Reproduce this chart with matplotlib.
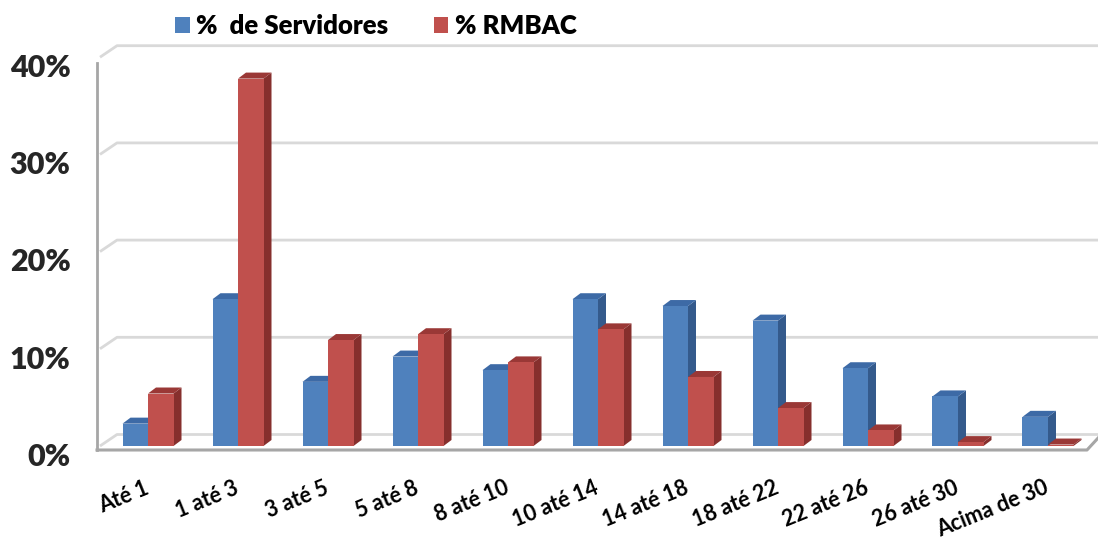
import matplotlib
matplotlib.use("Agg")
import matplotlib.pyplot as plt
from matplotlib.patches import Polygon, Patch
from matplotlib.transforms import ScaledTranslation
import numpy as np

categories = ["Até 1", "1 até 3", "3 até 5", "5 até 8", "8 até 10", "10 até 14",
              "14 até 18", "18 até 22", "22 até 26", "26 até 30", "Acima de 30"]
servidores = [2.3, 15.1, 6.6, 9.2, 7.8, 15.1, 14.4, 12.9, 8.0, 5.1, 3.0]
rmbac = [5.4, 37.8, 10.9, 11.5, 8.6, 12.0, 7.1, 3.9, 1.6, 0.4, 0.15]
yticks = [0, 10, 20, 30, 40]
ytick_labels = ["0%", "10%", "20%", "30%", "40%"]
series_names = ["%  de Servidores", "% RMBAC"]

FONT = ["Lato", "DejaVu Sans"]
plt.rcParams['font.family'] = FONT

W, H, DPI = 1098, 541, 100
fig = plt.figure(figsize=(W / DPI, H / DPI), dpi=DPI)

# pixel geometry of the plot
px_per_unit_x = 90.0     # one category
px_per_pct = 9.72        # one percent
x0_px, y0_px = 148.0, 446.0   # category 0 centre, value 0 (front plane)
ax_l, ax_r, ax_t, ax_b = 90, 1098, 40, 462
ax = fig.add_axes([ax_l / W, 1 - ax_b / H, (ax_r - ax_l) / W, (ax_b - ax_t) / H])
ax.set_xlim((ax_l - x0_px) / px_per_unit_x, (ax_r - x0_px) / px_per_unit_x)
ax.set_ylim((y0_px - ax_b) / px_per_pct, (y0_px - ax_t) / px_per_pct)

def dxu(px):
    return px / px_per_unit_x

def dyu(px):
    return px / px_per_pct

# wall / floor geometry (depth offsets)
wall_dx, wall_dy = dxu(17), dyu(11.5)
wall_front_x = dxu(100 - x0_px)
x_right = ax.get_xlim()[1]
grid_c = "#D9D9D9"
for v in yticks:
    ax.plot([wall_front_x, wall_front_x + wall_dx, x_right],
            [v, v + wall_dy, v + wall_dy], color=grid_c, lw=2, zorder=1,
            solid_capstyle="butt")

# front edge of the floor and left axis line
axis_c = "#A6A6A6"
floor_y = dyu(y0_px - 450)
left_x = dxu(97 - x0_px)
ax.plot([left_x, left_x], [floor_y, dyu(y0_px - 63)], color=axis_c, lw=2, zorder=1)
floor_end_x = dxu(1087 - x0_px)
ax.plot([left_x, floor_end_x, floor_end_x + dxu(12)],
        [floor_y, floor_y, floor_y + dyu(13)], color=axis_c, lw=2.2, zorder=1)

# bars
bw = dxu(25.5)
bdx, bdy = dxu(8), dyu(6)
x = np.arange(len(categories))
styles = [
    dict(front="#4F81BD", side="#345A8C", top="#3D6AA6"),
    dict(front="#C0504D", side="#862F2D", top="#9A3836"),
]
for k, (vals, st) in enumerate(zip([servidores, rmbac], styles)):
    xs = x + (k - 0.5) * bw
    z = 2 + k
    bars = ax.bar(xs, vals, width=bw, color=st["front"], zorder=z + 0.2, linewidth=0)
    for b, v in zip(bars, vals):
        xl = b.get_x()
        xr = xl + b.get_width()
        side = Polygon([(xr, 0), (xr + bdx, bdy), (xr + bdx, v + bdy), (xr, v)],
                       closed=True, facecolor=st["side"], edgecolor="none", zorder=z)
        top = Polygon([(xl, v), (xl + bdx, v + bdy), (xr + bdx, v + bdy), (xr, v)],
                      closed=True, facecolor=st["top"], edgecolor="none", zorder=z + 0.1)
        ax.add_patch(side)
        ax.add_patch(top)

for s in ax.spines.values():
    s.set_visible(False)

ax.set_yticks(yticks)
ax.set_yticklabels(ytick_labels, fontsize=22, fontweight="heavy", color="#262626")
ax.tick_params(axis="y", length=0, pad=14)
for lab in ax.get_yticklabels():
    lab.set_transform(lab.get_transform() + ScaledTranslation(0, -6 / 72, fig.dpi_scale_trans))

ax.set_xticks(x)
ax.set_xticklabels(categories, fontsize=15.5, fontweight="bold", color="#000000",
                   rotation=22, ha="right", rotation_mode="anchor")
ax.tick_params(axis="x", length=0, pad=11)
for lab in ax.get_xticklabels():
    lab.set_transform(lab.get_transform() + ScaledTranslation(-3 / 72, 0, fig.dpi_scale_trans))

handles = [Patch(facecolor=styles[0]["front"]), Patch(facecolor=styles[1]["front"])]
fig.legend(handles, series_names, loc="upper left", bbox_to_anchor=(152 / W, 1 + 9 / H),
           ncol=2, frameon=False, handlelength=0.58, handleheight=0.58, handletextpad=0.25,
           columnspacing=1.75, prop=dict(family=FONT, size=18.5, weight="heavy"))

fig.savefig("out.png", dpi=DPI, facecolor="white")
